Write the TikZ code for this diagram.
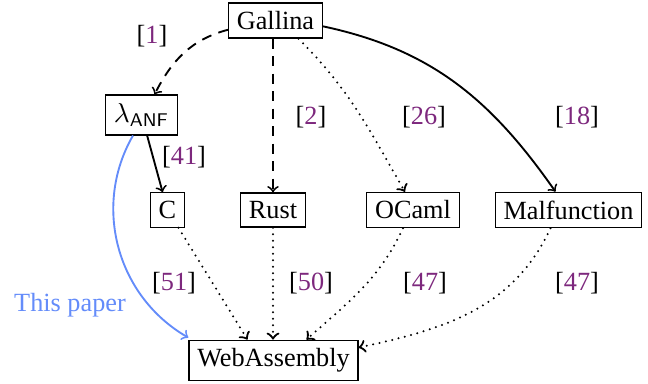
\documentclass[tikz,border=0pt]{standalone}
\usepackage{amsmath}
\usepackage{fontspec}
\setmainfont{Liberation Serif}
\usetikzlibrary{calc}
\definecolor{citecol}{RGB}{125,40,125}
\definecolor{paperblue}{RGB}{100,140,250}
\newcommand{\refnum}[1]{[\textcolor{citecol}{#1}]}
\begin{document}
\begin{tikzpicture}[x=0.4pt,y=-0.4pt,
  font=\fontsize{10.5}{12.5}\selectfont,
  lang/.style={draw, line width=0.5pt, inner sep=0.3333em},
  conn/.style={line width=0.75pt, ->},
  dashline/.style={conn, dash pattern=on 4pt off 3pt},
  dotline/.style={conn, line width=0.9pt, line cap=round, dash pattern=on 0pt off 2.6pt},
  reflabel/.style={inner sep=1pt}]
\useasboundingbox (0,0) rectangle (648,383);

% languages
\node[lang] (g) at (275.5,20.5) {Gallina};
\node[lang] (l) at (141.5,115) {$\lambda_{\text{\sffamily ANF}}$};
\node[lang] (c) at (167.5,210) {C};
\node[lang] (r) at (273,210) {Rust};
\node[lang] (o) at (413,210) {OCaml};
\node[lang] (m) at (568.5,210) {Malfunction};
\node[lang] (w) at (273.5,360.5) {WebAssembly};

% citation labels
\node[reflabel] (r1)  at (152,36)  {\refnum{1}};
\node[reflabel] (r2)  at (311,117) {\refnum{2}};
\node[reflabel] (r26) at (424,117) {\refnum{26}};
\node[reflabel] (r18) at (577,117) {\refnum{18}};
\node[reflabel] (r41) at (184,157) {\refnum{41}};
\node[reflabel] (r51) at (174,283) {\refnum{51}};
\node[reflabel] (r50) at (311,283) {\refnum{50}};
\node[reflabel] (r47a) at (425,283) {\refnum{47}};
\node[reflabel] (r47b) at (577,283) {\refnum{47}};
\node[reflabel, text=paperblue] (tp) at (70,305) {This paper};

% translations out of Gallina
\draw[dashline] (g.191) to[out=195,in=63] ($(l.north)+(13,0)$);
\draw[dashline] (r.north |- g.south) -- (r.north);
\draw[dotline] ($(g.south)+(23,0)$) to[out=-45,in=120] ($(o.north)+(-8,0)$);
\draw[conn] (g.-7.5) to[out=-12,in=125] ($(m.north)+(-13,0)$);

% lambda ANF
\draw[conn] (l) -- (c);
\draw[conn, paperblue] ($(l.south)+(-8.5,0)$) to[out=240,in=150] ($(w.north west)+(0,-2)$);

% into WebAssembly
\draw[dotline] (c) -- ($(w.north)+(-26,0)$);
\draw[dotline] (r.south) -- (r.south |- w.north);
\draw[dotline] ($(o.south)+(-10,0)$) to[out=245,in=42] ($(w.north)+(33,0)$);
\draw[dotline] ($(m.south)+(-18,0)$) to[out=245,in=12] ($(w.east)+(0,-13)$);
\end{tikzpicture}
\end{document}
